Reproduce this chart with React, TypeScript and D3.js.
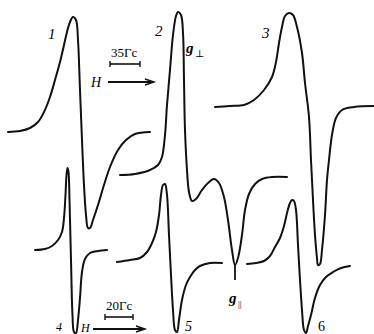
import React from "react";
import * as d3 from "d3";

// EPR spectra: field position (arb. units) and derivative signal relative to each baseline
const spectrumIds = ["1", "2", "3", "4", "5", "6"];
const baselines = [202, 158, 228, 84, 71, 69];

const field1 = [8, 20, 30, 38, 44, 50, 55, 60, 64, 67, 70, 73, 76, 78, 80, 82, 84, 86, 88, 90, 93, 98, 104, 110, 118, 126, 135, 150];
const signal1 = [0, 1, 4, 10, 20, 35, 52, 70, 87, 100, 110, 115, 112, 92, 42, -8, -53, -83, -96, -96, -88, -73, -53, -35, -18, -8, -2, 0];

const field2 = [120, 135, 150, 158, 162, 165, 167, 170, 173, 176, 178, 181, 183, 184, 185, 187, 189, 192, 196, 202, 208, 214, 219, 224, 228, 232, 235, 238, 242, 245, 249, 255, 262, 272, 287];
const signal2 = [1, 2, 6, 11, 19, 41, 71, 106, 141, 160, 164, 161, 143, 96, 46, 6, -16, -25, -23, -14, -7, -3, -7, -21, -44, -74, -89, -82, -59, -34, -18, -8, -3, -1, -1];

const field3 = [215, 230, 244, 254, 264, 272, 276, 279, 282, 285, 289, 293, 297, 302, 305, 309, 311, 313, 315, 317, 318, 320, 322, 325, 327, 329, 332, 336, 342, 354, 374];
const signal3 = [-1, 0, 1, 6, 16, 29, 44, 63, 79, 90, 93, 91, 79, 53, 23, -11, -54, -94, -129, -152, -159, -158, -144, -109, -74, -54, -29, -12, -4, -1, 0];

const field4 = [35, 45, 52, 58, 62, 64, 65.5, 66.5, 67.5, 68.5, 69.5, 71, 72.5, 74, 76, 78, 80, 82, 85, 90, 98, 107];
const signal4 = [0, 1, 4, 10, 18, 32, 55, 75, 82, 78, 50, -10, -65, -82, -83, -70, -48, -22, -9, -3, -1, 0];

const field5 = [117, 130, 140, 147, 152, 156, 159, 161, 163, 165, 167, 169, 171, 173, 175, 177, 179, 182, 186, 190, 195, 200, 210, 222];
const signal5 = [1, 3, 5, 11, 20, 31, 48, 68, 78, 79, 68, 28, -12, -47, -67, -69, -57, -37, -22, -14, -7, -3, 0, 0];

const field6 = [247, 256, 264, 270, 275, 280, 284, 287, 290, 292, 294, 296, 298, 300, 302, 304, 306, 308, 311, 315, 320, 326, 333, 341, 350];
const signal6 = [1, 2, 4, 9, 18, 27, 39, 52, 62, 65, 64, 55, 20, -15, -45, -65, -68, -61, -50, -33, -20, -12, -7, -3, -1];

const fields = [field1, field2, field3, field4, field5, field6];
const signals = [signal1, signal2, signal3, signal4, signal5, signal6];

const W = 374;
const H = 334;

export default function App() {
  const x = d3.scaleLinear().domain([0, 374]).range([0, W]);
  const y = d3.scaleLinear().domain([0, 334]).range([H, 0]);
  const line = d3
    .line<[number, number]>()
    .x((d) => x(d[0]))
    .y((d) => y(d[1]))
    .curve(d3.curveCatmullRom.alpha(0.5));

  const paths = spectrumIds.map((id, i) => {
    const pts: [number, number][] = fields[i].map((f, j) => [f, baselines[i] + signals[i][j]]);
    return <path key={id} d={line(pts) || ""} fill="none" stroke="#111" strokeWidth={2} strokeLinejoin="round" strokeLinecap="round" />;
  });

  const font = "'Liberation Serif', 'DejaVu Serif', serif";

  return (
    <svg
      width={W}
      height={H}
      style={{ position: "fixed", left: 0, top: 0, background: "#fff" }}
      fontFamily={font}
    >
      <rect width={W} height={H} fill="#fff" />
      {paths}
      {/* g|| marker tick */}
      <line x1={235} y1={265} x2={235} y2={280} stroke="#111" strokeWidth={1.8} />

      {/* labels */}
      <text x={48} y={39} fontSize={15} fontStyle="italic">1</text>
      <text x={155} y={36} fontSize={15} fontStyle="italic">2</text>
      <text x={262} y={38} fontSize={15} fontStyle="italic">3</text>
      <text x={56} y={331} fontSize={12} fontStyle="italic">4</text>
      <text x={185} y={331} fontSize={14} fontStyle="italic">5</text>
      <text x={318} y={331} fontSize={14}>6</text>

      <text x={186} y={53} fontSize={15} fontStyle="italic" fontWeight="bold">g</text>
      <text x={195} y={57} fontSize={10}>⊥</text>

      <text x={229} y={303} fontSize={15} fontStyle="italic" fontWeight="bold">g</text>
      <text x={238} y={307} fontSize={9}>||</text>

      {/* 35 Гс scale bar */}
      <text x={111} y={57} fontSize={13}>35Гс</text>
      <line x1={110} y1={64} x2={140} y2={64} stroke="#111" strokeWidth={1.6} />
      <line x1={110} y1={61} x2={110} y2={67} stroke="#111" strokeWidth={1.4} />
      <line x1={140} y1={61} x2={140} y2={67} stroke="#111" strokeWidth={1.4} />
      <text x={91} y={87} fontSize={14} fontStyle="italic">H</text>
      <line x1={108} y1={82} x2={152} y2={82} stroke="#111" strokeWidth={1.8} />
      <path d="M145,79 L154,82 L145,85" fill="none" stroke="#111" strokeWidth={1.4} />

      {/* 20 Гс scale bar */}
      <text x={106} y={310} fontSize={13}>20Гс</text>
      <line x1={105} y1={317} x2={133} y2={317} stroke="#111" strokeWidth={1.6} />
      <line x1={105} y1={314} x2={105} y2={320} stroke="#111" strokeWidth={1.4} />
      <line x1={133} y1={314} x2={133} y2={320} stroke="#111" strokeWidth={1.4} />
      <text x={81} y={332} fontSize={12} fontStyle="italic">H</text>
      <line x1={93} y1={329} x2={143} y2={329} stroke="#111" strokeWidth={1.8} />
      <path d="M136,326 L145,329 L136,332" fill="none" stroke="#111" strokeWidth={1.4} />
    </svg>
  );
}
